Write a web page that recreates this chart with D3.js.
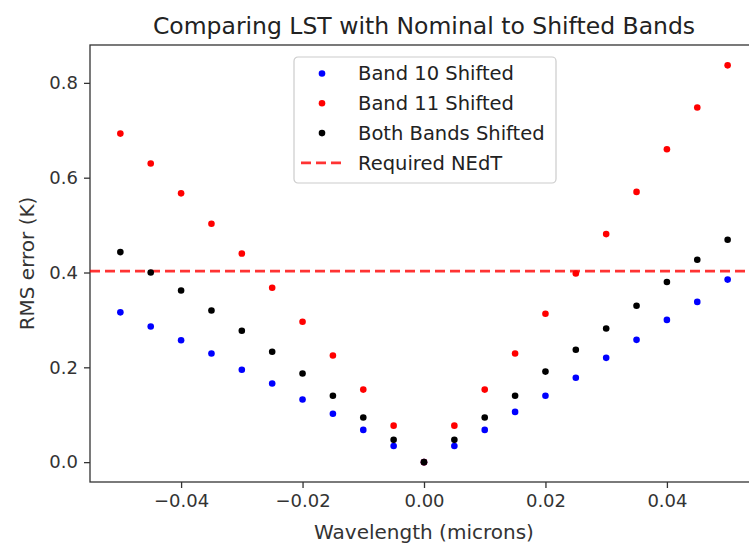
<!DOCTYPE html>
<html>
<head>
<meta charset="utf-8">
<script src="https://cdn.jsdelivr.net/npm/d3@7"></script>
<style>
  body { margin: 0; background: #fff; }
  svg { display: block; font-family: "DejaVu Sans", sans-serif; }
</style>
</head>
<body>
<div id="chart"></div>
<script>
// Data
const shifts = [-0.05, -0.045, -0.04, -0.035, -0.03, -0.025, -0.02, -0.015, -0.01, -0.005, 0,
                0.005, 0.01, 0.015, 0.02, 0.025, 0.03, 0.035, 0.04, 0.045, 0.05];
const band10 = [0.316, 0.286, 0.257, 0.229, 0.195, 0.166, 0.132, 0.102, 0.068, 0.034, 0,
                0.034, 0.068, 0.106, 0.140, 0.178, 0.220, 0.258, 0.300, 0.338, 0.385];
const band11 = [0.693, 0.630, 0.567, 0.503, 0.440, 0.368, 0.296, 0.225, 0.153, 0.077, 0,
                0.077, 0.153, 0.229, 0.313, 0.398, 0.481, 0.570, 0.660, 0.748, 0.837];
const bothBands = [0.443, 0.400, 0.362, 0.320, 0.277, 0.233, 0.187, 0.140, 0.094, 0.047, 0,
                   0.047, 0.094, 0.140, 0.191, 0.237, 0.282, 0.330, 0.380, 0.427, 0.469];
const requiredNEdT = 0.403;
const xTicks = [-0.04, -0.02, 0, 0.02, 0.04];
const yTicks = [0, 0.2, 0.4, 0.6, 0.8];

const series = [
    { name: "Band 10 Shifted", color: "blue", values: band10 },
    { name: "Band 11 Shifted", color: "red", values: band11 },
    { name: "Both Bands Shifted", color: "black", values: bothBands }
];

function createChart() {
    const W = 749, H = 548;
    const margin = { top: 45, right: -9, bottom: 66, left: 90 };
    const width = W - margin.left - margin.right;
    const height = H - margin.top - margin.bottom;

    const svg = d3.select("#chart").append("svg")
        .attr("width", W)
        .attr("height", H);

    const g = svg.append("g")
        .attr("transform", `translate(${margin.left},${margin.top})`);

    // Skalor (matplotlib-marginaler 5 %)
    const x = d3.scaleLinear().domain([-0.055, 0.055]).range([0, width]);
    const y = d3.scaleLinear().domain([-0.0419, 0.8799]).range([height, 0]);

    // Axlar
    const xAxis = g.append("g")
        .attr("transform", `translate(0,${height})`)
        .call(d3.axisBottom(x).tickValues(xTicks).tickSize(6).tickPadding(6)
            .tickFormat(d => d3.format(".2f")(d).replace("-", "\u2212")));
    const yAxis = g.append("g")
        .call(d3.axisLeft(y).tickValues(yTicks).tickSize(6).tickPadding(6)
            .tickFormat(d3.format(".1f")));

    [xAxis, yAxis].forEach(a => {
        a.select(".domain").remove();
        a.selectAll(".tick line").attr("stroke", "#333").attr("stroke-width", 1.3);
        a.selectAll(".tick text").attr("fill", "#333").style("font-size", "18px")
            .style("font-family", "DejaVu Sans");
    });

    // Ram
    g.append("rect")
        .attr("x", 0).attr("y", 0)
        .attr("width", width).attr("height", height)
        .attr("fill", "none")
        .attr("stroke", "#333")
        .attr("stroke-width", 1.3);

    // Streckad linje
    g.append("line")
        .attr("x1", 0).attr("x2", width)
        .attr("y1", y(requiredNEdT)).attr("y2", y(requiredNEdT))
        .attr("stroke", "red").attr("stroke-opacity", 0.8)
        .attr("stroke-width", 2.6)
        .attr("stroke-dasharray", "10,5");

    // Punkter
    series.forEach(s => {
        g.selectAll(null)
            .data(s.values.map((v, i) => ({ x: shifts[i], y: v })))
            .enter().append("circle")
            .attr("cx", d => x(d.x))
            .attr("cy", d => y(d.y))
            .attr("r", 3.3)
            .attr("fill", s.color);
    });

    // Titel och etiketter
    svg.append("text")
        .attr("x", margin.left + width / 2)
        .attr("y", 34)
        .attr("text-anchor", "middle")
        .style("font-size", "23.5px")
        .attr("fill", "#222")
        .text("Comparing LST with Nominal to Shifted Bands");

    svg.append("text")
        .attr("x", margin.left + width / 2)
        .attr("y", 539)
        .attr("text-anchor", "middle")
        .style("font-size", "20px")
        .attr("fill", "#333")
        .text("Wavelength (microns)");

    svg.append("text")
        .attr("transform", `translate(34,${margin.top + height / 2}) rotate(-90)`)
        .attr("text-anchor", "middle")
        .style("font-size", "20px")
        .attr("fill", "#333")
        .text("RMS error (K)");

    // Legend
    const legend = svg.append("g").attr("transform", "translate(294,57)");
    legend.append("rect")
        .attr("width", 262).attr("height", 126)
        .attr("rx", 4)
        .attr("fill", "white").attr("fill-opacity", 0.8)
        .attr("stroke", "#ccc").attr("stroke-width", 1.2);

    const rows = series.map(s => ({ name: s.name, color: s.color, type: "dot" }))
        .concat([{ name: "Required NEdT", color: "red", type: "line" }]);

    rows.forEach((r, i) => {
        const cy = 16.5 + i * 29.8;
        if (r.type === "dot") {
            legend.append("circle").attr("cx", 28).attr("cy", cy).attr("r", 3.3).attr("fill", r.color);
        } else {
            legend.append("line")
                .attr("x1", 7).attr("x2", 47).attr("y1", cy).attr("y2", cy)
                .attr("stroke", "red").attr("stroke-opacity", 0.8)
                .attr("stroke-width", 2.6).attr("stroke-dasharray", "10,5");
        }
        legend.append("text")
            .attr("x", 64).attr("y", cy)
            .attr("dy", "0.35em")
            .style("font-size", "19.5px")
            .attr("fill", "#222")
            .text(r.name);
    });
}

createChart();
</script>
</body>
</html>
